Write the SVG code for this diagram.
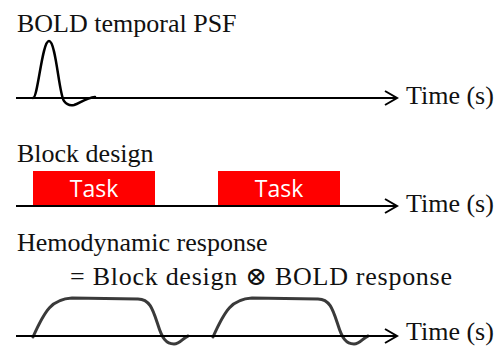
<svg xmlns="http://www.w3.org/2000/svg" width="499" height="346" viewBox="0 0 499 346">
<defs>
<style>
.lbl{font-family:"Liberation Serif","DejaVu Serif",serif;font-size:26px;fill:#111}
.task{font-family:"Open Sans","Liberation Sans",sans-serif;font-size:23px;fill:#fff;text-anchor:middle}
.axis{stroke:#000;stroke-width:2;fill:none}
.psf{stroke:#000;stroke-width:2.5;fill:none;stroke-linecap:round}
.hrf{stroke:#3a3a3a;stroke-width:3;fill:none;stroke-linecap:round}
.blk{fill:#ff0000}
</style>
</defs>
<rect width="499" height="346" fill="#fff"/>
<g id="psf-panel">
<text class="lbl" x="17" y="32">BOLD temporal PSF</text>
<path class="psf" d="M33,98 C38,98 42,41 49,41 C56,41 59,95 64,101 C67,105 70,106 74,105 C80,103 86,98 95,97"/>
</g>
<g id="block-panel">
<text class="lbl" x="17" y="162">Block design</text>
<g id="task1"><rect class="blk" x="33" y="171" width="122" height="35"/><text class="task" x="94" y="197">Task</text></g>
<g id="task2"><rect class="blk" x="218" y="171" width="122" height="35"/><text class="task" x="279" y="197">Task</text></g>
</g>
<g id="hrf-panel">
<text class="lbl" x="17" y="251">Hemodynamic response</text>
<text class="lbl" x="70" y="285" textLength="382" lengthAdjust="spacing">= Block design ⊗ BOLD response</text>
<path class="hrf" d="M33,337 C45,310 52,299 72,298 L138,299 C150,299 153,310 158,325 C162,338 166,344 174,344 C180,344 183,338 188,336"/>
<path class="hrf" d="M213,337 C225,310 232,299 252,298 L318,299 C330,299 333,310 338,325 C342,338 346,344 354,344 C360,344 363,338 368,336"/>
</g>
<g id="connectors">
<line class="axis" x1="16" y1="98" x2="397" y2="98"/>
<polyline class="axis" points="385,91 397,98 385,105"/>
<line class="axis" x1="16" y1="206" x2="397" y2="206"/>
<polyline class="axis" points="385,199 397,206 385,213"/>
<line class="axis" x1="16" y1="336" x2="397" y2="336"/>
<polyline class="axis" points="385,329 397,336 385,343"/>
</g>
<g id="time-labels">
<text class="lbl" x="406" y="104">Time (s)</text>
<text class="lbl" x="406" y="212">Time (s)</text>
<text class="lbl" x="406" y="340">Time (s)</text>
</g>
</svg>
